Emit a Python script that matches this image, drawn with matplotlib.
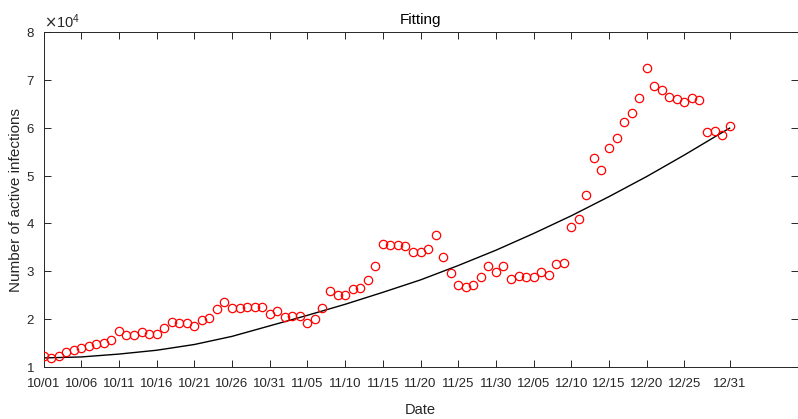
import numpy as np
import matplotlib
matplotlib.use("Agg")
import matplotlib.pyplot as plt
from matplotlib.ticker import ScalarFormatter

# Observed active infections, one per day from 10/01 (day 0) to 12/31 (day 91)
active = [12220, 11880, 12300, 13200, 13560, 13970, 14320, 14870, 14940, 15710,
          17530, 16750, 16690, 17320, 16900, 16900, 18070, 19400, 19200, 19200,
          18630, 19740, 20160, 22100, 23650, 22330, 22330, 22460, 22460, 22540,
          21000, 21700, 20370, 20700, 20580, 19200, 20030, 22330, 25980, 25050,
          25110, 26220, 26510, 28100, 31170, 35620, 35560, 35490, 35350, 34030,
          34030, 34720, 37650, 33050, 29640, 27200, 26780, 27170, 28730, 31170,
          29920, 31030, 28460, 29020, 28730, 28730, 29850, 29150, 31530, 31660,
          39260, 41000, 45940, 53670, 51080, 55680, 57900, 61110, 63070, 66130,
          72540, 68630, 67800, 66480, 65920, 65370, 66210, 65710, 59170, 59230,
          58480, 60420]
days = list(range(len(active)))

# Fitted curve
fit_days = [0, 5, 10, 15, 20, 25, 30, 35, 40, 45, 50, 55, 60, 65, 70, 75, 80, 85, 90, 91]
fit_vals = [11900, 12100, 12700, 13500, 14700, 16400, 18600, 20800, 23100, 25600,
            28200, 31200, 34400, 37900, 41600, 45600, 49800, 54300, 59000, 59900]

tick_days = [0, 5, 10, 15, 20, 25, 30, 35, 40, 45, 50, 55, 60, 65, 70, 75, 80, 85, 91]
tick_labels = ["10/01", "10/06", "10/11", "10/16", "10/21", "10/26", "10/31",
               "11/05", "11/10", "11/15", "11/20", "11/25", "11/30", "12/05",
               "12/10", "12/15", "12/20", "12/25", "12/31"]
y_ticks = [10000, 20000, 30000, 40000, 50000, 60000, 70000, 80000]

plt.rcParams['font.family'] = ['Liberation Sans', 'DejaVu Sans']
dark = '#262626'

fig = plt.figure(figsize=(7.98, 4.19), dpi=100)
ax = fig.add_axes([43.5 / 798, 1 - 367 / 419, (797.5 - 43.5) / 798, (367 - 32) / 419])

ax.plot(days, active, 'o', ms=6, mfc='none', mec='red', mew=0.9, zorder=3)
ax.plot(fit_days, fit_vals, '-', color='black', lw=1.0, zorder=2)

ax.set_xlim(0, 100)
ax.set_ylim(10000, 80000)
ax.set_xticks(tick_days)
ax.set_xticklabels(tick_labels)
ax.set_yticks(y_ticks)

fmt = ScalarFormatter(useMathText=True)
fmt.set_powerlimits((4, 4))
ax.yaxis.set_major_formatter(fmt)
ax.yaxis.get_offset_text().set_fontsize(10.5)
ax.yaxis.get_offset_text().set_color(dark)

ax.tick_params(direction='in', top=True, right=True, length=5, width=0.7,
               colors=dark, labelsize=9.5)
ax.tick_params(axis='x', pad=8)
ax.tick_params(axis='y', pad=6)
for s in ax.spines.values():
    s.set_color(dark)
    s.set_linewidth(0.7)

ax.set_title("Fitting", fontsize=11, color='black', pad=6)
ax.set_xlabel("Date", fontsize=10.5, color=dark, labelpad=9)
ax.set_ylabel("Number of active infections", fontsize=11, color=dark, labelpad=2)

fig.savefig("out.png", dpi=100)
